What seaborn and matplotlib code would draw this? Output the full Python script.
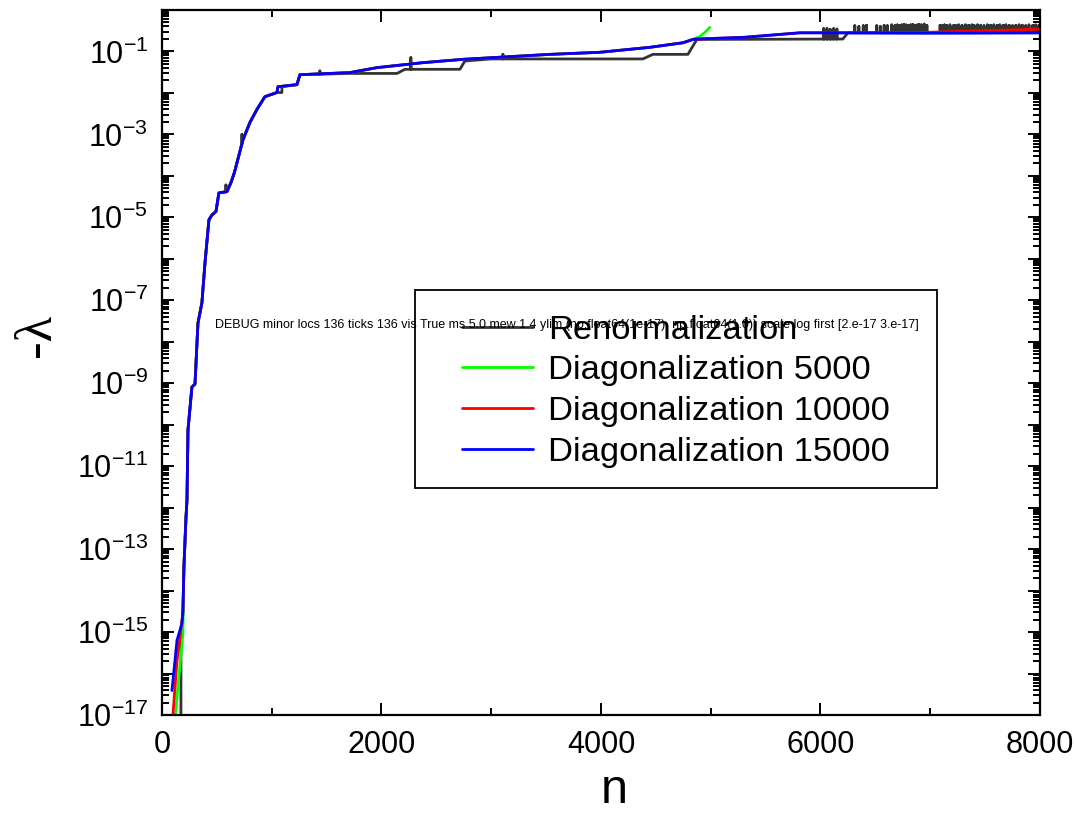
import numpy as np
import pandas as pd
import matplotlib
matplotlib.use("Agg")
import matplotlib.pyplot as plt
import matplotlib.ticker as mticker
from matplotlib.patches import Rectangle
from matplotlib import font_manager
import seaborn as sns

# ---------------- data (log10 of -lambda vs n) ----------------
series_names = ["Renormalization", "Diagonalization 5000",
                "Diagonalization 10000", "Diagonalization 15000"]
series_colors = ["#333333", "#00ff00", "#ff0000", "#0000ff"]

diag_mid_n = [200, 219, 228, 237, 273, 301, 328, 364, 392, 428, 456, 492, 519,
              592, 629, 660, 738, 802, 865, 938, 1048, 1057, 1230, 1257, 1713,
              1959, 2378, 2742, 3535, 3990, 4446, 4747, 4838]
diag_mid_log = [-13.44, -12.23, -11.82, -10.13, -9.09, -9.02, -7.55, -7.06,
                -6.10, -5.06, -4.94, -4.86, -4.41, -4.38, -4.16, -3.92, -3.13,
                -2.71, -2.40, -2.09, -1.99, -1.85, -1.80, -1.56, -1.51, -1.39,
                -1.27, -1.19, -1.07, -1.02, -0.90, -0.79, -0.71]

d5000_head_n = [112, 191]
d5000_head_log = [-17.3, -15.03]
d5000_tail_n = [4856, 4900, 4947, 4993]
d5000_tail_log = [-0.69, -0.64, -0.54, -0.42]

d10000_head_n = [100, 137, 191]
d10000_head_log = [-17.0, -15.69, -14.55]
d10000_tail_n = [4874, 5300, 5813, 6950, 7500, 8000]
d10000_tail_log = [-0.70, -0.66, -0.55, -0.54, -0.50, -0.46]

d15000_head_n = [91, 137, 182, 191]
d15000_head_log = [-16.41, -15.20, -14.79, -14.48]
d15000_tail_n = [4874, 5300, 5813, 7000, 8000]
d15000_tail_log = [-0.70, -0.66, -0.55, -0.56, -0.55]

renorm_n = [173, 173, 182, 191, 200, 219, 228, 237, 273, 301, 328, 364, 392,
            428, 456, 492, 519, 592, 629, 660, 738, 802, 865, 938, 1048, 1093,
            1093, 1230, 1257, 1713, 2141, 2214, 2715, 2760, 3000, 4382, 4473,
            4792, 4874, 6204, 6250, 8000]
renorm_log = [-18, -15.2, -14.79, -14.48, -13.44, -12.23, -11.82, -10.13,
              -9.09, -9.02, -7.55, -7.06, -6.10, -5.06, -4.94, -4.86, -4.41,
              -4.38, -4.16, -3.92, -3.13, -2.71, -2.40, -2.09, -1.99, -1.99,
              -1.85, -1.80, -1.56, -1.53, -1.53, -1.43, -1.43, -1.23, -1.18,
              -1.18, -1.07, -1.07, -0.71, -0.70, -0.55, -0.55]

renorm_spike_n = [583, 729, 1439, 2268, 3107,
                  6030, 6060, 6090, 6120, 6150,
                  6313, 6350, 6390, 6420,
                  6513, 6545, 6580, 6610, 6650, 6680, 6700, 6720, 6740, 6760,
                  6780, 6800, 6820, 6840, 6860, 6880, 6900, 6920, 6945, 6970,
                  7090, 7110, 7130, 7150, 7180, 7210, 7230, 7260, 7290, 7320,
                  7350, 7380, 7400, 7430, 7460, 7490, 7520, 7550, 7580, 7610,
                  7635, 7665, 7690, 7720, 7750, 7780, 7810, 7840, 7870, 7900,
                  7935, 7960, 7990]
renorm_spike_top = [-4.22, -3.00, -1.47, -1.15, -1.07,
                    -0.45, -0.45, -0.47, -0.45, -0.46,
                    -0.38, -0.40, -0.38, -0.37,
                    -0.38, -0.40, -0.37, -0.38, -0.36, -0.37, -0.36, -0.37,
                    -0.36, -0.35, -0.36, -0.37, -0.36, -0.35, -0.37, -0.36,
                    -0.35, -0.36, -0.34, -0.37,
                    -0.37, -0.38, -0.36, -0.37, -0.36, -0.38, -0.37, -0.36,
                    -0.37, -0.36, -0.37, -0.36, -0.37, -0.36, -0.37, -0.38,
                    -0.36, -0.37, -0.36, -0.37, -0.36, -0.37, -0.36, -0.37,
                    -0.38, -0.37, -0.36, -0.37, -0.38, -0.36, -0.37, -0.36,
                    -0.37]

x_ticks = [0, 2000, 4000, 6000, 8000]
y_label_exponents = [-17, -15, -13, -11, -9, -7, -5, -3, -1]

def build_renorm():
    pts = [(n, v, i, 0) for i, (n, v) in enumerate(zip(renorm_n, renorm_log))]
    for j, (n, top) in enumerate(zip(renorm_spike_n, renorm_spike_top)):
        base = float(np.interp(n, renorm_n, renorm_log))
        pts += [(n, base, j, 1), (n, top, j, 2), (n, base, j, 3)]
    pts.sort(key=lambda p: (p[0], p[3]))
    return [p[0] for p in pts], [p[1] for p in pts]

rn, rl = build_renorm()
frames = [pd.DataFrame({"n": rn, "log": rl, "series": series_names[0]})]
for name, hn, hl, tn, tl in [
        (series_names[1], d5000_head_n, d5000_head_log, d5000_tail_n, d5000_tail_log),
        (series_names[2], d10000_head_n, d10000_head_log, d10000_tail_n, d10000_tail_log),
        (series_names[3], d15000_head_n, d15000_head_log, d15000_tail_n, d15000_tail_log)]:
    frames.append(pd.DataFrame({"n": hn + diag_mid_n + tn,
                                "log": hl + diag_mid_log + tl,
                                "series": name}))
df = pd.concat(frames, ignore_index=True)
df["lam"] = 10.0 ** df["log"]

sns.set_style("white")
avail = {f.name for f in font_manager.fontManager.ttflist}
narrow = "Liberation Sans Narrow" if "Liberation Sans Narrow" in avail else "Liberation Sans"
plt.rcParams["font.family"] = ["Liberation Sans", "DejaVu Sans"]
plt.rcParams["mathtext.fontset"] = "custom"
plt.rcParams["mathtext.rm"] = narrow
plt.rcParams["mathtext.it"] = narrow
plt.rcParams["mathtext.default"] = "regular"
for key in ["text.color", "axes.labelcolor", "xtick.color", "ytick.color"]:
    plt.rcParams[key] = "black"

fig = plt.figure(figsize=(10.74, 8.19), dpi=100)
ax = fig.add_axes([0.1508, 0.127, 0.8175, 0.8608])

palette = dict(zip(series_names, series_colors))
for name in series_names:
    sub = df[df["series"] == name]
    sns.lineplot(data=sub, x="n", y="lam", ax=ax, color=palette[name],
                 lw=0.9 if name == series_names[0] else 2.2,
                 sort=False, estimator=None, label=name)

ax.set_yscale("log")
ax.set_xlim(0, 8000)
ax.set_ylim(1e-17, 1e0)

for sp in ax.spines.values():
    sp.set_linewidth(1.6)
    sp.set_color("black")

ax.set_xlabel("n", fontsize=35, family=narrow)
ax.xaxis.set_label_coords(0.515, -0.075)
ax.set_ylabel("-λ", fontsize=38, family=["Liberation Serif", "DejaVu Serif"])
ax.yaxis.set_label_coords(-0.115, 0.539)

leg = ax.get_legend()
if leg is not None:
    leg.remove()
handles, labels = ax.get_legend_handles_labels()
for h in handles:
    h.set_linewidth(2.0)
ax.legend(handles, labels, loc="upper left", bbox_to_anchor=(0.342, 0.568),
          frameon=False, fontsize=24.8, handlelength=2.05, handletextpad=0.45,
          labelspacing=0.28, borderpad=0, borderaxespad=0, labelcolor="black")
ax.add_patch(Rectangle((0.288, 0.322), 0.595, 0.281, transform=ax.transAxes,
                       fill=False, edgecolor="black", lw=1.3, zorder=5))

ax.xaxis.set_major_locator(mticker.FixedLocator(x_ticks))
ax.xaxis.set_minor_locator(mticker.MultipleLocator(1000))
ax.xaxis.set_major_formatter(mticker.FuncFormatter(lambda v, p: f"{int(v)}"))

decades = np.arange(-17, 1)
ax.yaxis.set_major_locator(mticker.FixedLocator(10.0 ** decades))
minor_locs = [m * 10.0 ** e for e in decades[:-1] for m in range(2, 10)]
ax.yaxis.set_minor_locator(mticker.FixedLocator(minor_locs))
ax.yaxis.set_minor_formatter(mticker.NullFormatter())
ax.yaxis.remove_overlapping_locs = False

def ylab(v, p):
    e = int(round(np.log10(v)))
    return f"$10^{{{e}}}$" if e in y_label_exponents else ""
ax.yaxis.set_major_formatter(mticker.FuncFormatter(ylab))

ax.tick_params(which="both", direction="in", top=True, right=True,
               bottom=True, left=True, width=1.4, color="black")
ax.tick_params(which="major", length=8.5)
ax.tick_params(which="minor", length=5.0)
ax.tick_params(axis="x", which="major", pad=11, labelsize=22)
ax.tick_params(axis="y", which="major", pad=10, labelsize=22)
for lab in ax.get_xticklabels():
    lab.set_fontfamily(narrow)

fig.canvas.draw()
mt = ax.yaxis.get_minor_ticks()
locs = ax.yaxis.get_minorticklocs()
info = (f"DEBUG minor locs {len(locs)} ticks {len(mt)} "
        f"vis {mt[0].tick1line.get_visible() if mt else None} "
        f"ms {mt[0].tick1line.get_markersize() if mt else None} "
        f"mew {mt[0].tick1line.get_markeredgewidth() if mt else None} "
        f"ylim {ax.get_ylim()} scale {ax.get_yscale()} first {locs[:2] if len(locs) else None}")
fig.text(0.2, 0.6, info, fontsize=9)
fig.savefig("out.png", dpi=100)
